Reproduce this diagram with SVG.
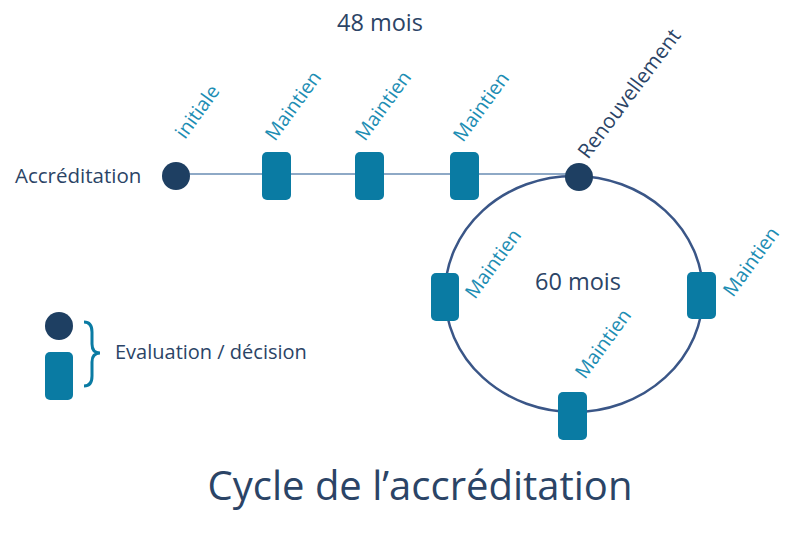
<svg xmlns="http://www.w3.org/2000/svg" width="800" height="540" viewBox="0 0 800 540">
<style>
.dot{fill:#1E3F62}
.box{fill:#0A7BA3}
.lbl{font-family:"Open Sans","Liberation Sans",sans-serif;font-size:19.5px;fill:#1C8DB3}
.txt{font-family:"Open Sans","Liberation Sans",sans-serif;fill:#2B4466}
</style>
<rect width="800" height="540" fill="#ffffff"/>
<g id="connectors">
<line x1="176" y1="174" x2="579" y2="174" stroke="#8EA9C6" stroke-width="2"/>
<ellipse cx="574" cy="294" rx="129" ry="118" fill="none" stroke="#3A5687" stroke-width="2.5"/>
</g>
<text class="txt" x="380" y="31" font-size="23.5" text-anchor="middle">48 mois</text>
<text class="txt" x="578" y="290" font-size="23.5" text-anchor="middle">60 mois</text>
<g id="accreditation">
<text class="txt" x="15" y="183" font-size="20.5">Accréditation</text>
<circle class="dot" cx="176" cy="176" r="14"/>
<text class="lbl" transform="translate(185,140) rotate(-54)">initiale</text>
</g>
<g id="m1"><rect class="box" x="262" y="152" width="29" height="48" rx="5"/><text class="lbl" transform="translate(275,142) rotate(-54)">Maintien</text></g>
<g id="m2"><rect class="box" x="355" y="152" width="29" height="48" rx="5"/><text class="lbl" transform="translate(365,142) rotate(-54)">Maintien</text></g>
<g id="m3"><rect class="box" x="450" y="152" width="29" height="48" rx="5"/><text class="lbl" transform="translate(463,143) rotate(-54)">Maintien</text></g>
<g id="renouvellement">
<circle class="dot" cx="579" cy="177" r="14"/>
<text class="txt" font-size="20.5" fill="#2B3A55" transform="translate(588,160) rotate(-53)">Renouvellement</text>
</g>
<g id="m4"><rect class="box" x="431" y="273" width="28" height="48" rx="5"/><text class="lbl" transform="translate(475,300) rotate(-54)">Maintien</text></g>
<g id="m5"><rect class="box" x="687" y="272" width="29" height="47" rx="5"/><text class="lbl" transform="translate(733,298) rotate(-54)">Maintien</text></g>
<g id="m6"><rect class="box" x="558" y="392" width="29" height="48" rx="5"/><text class="lbl" transform="translate(585,380) rotate(-54)">Maintien</text></g>
<g id="legend">
<circle class="dot" cx="59" cy="326" r="14"/>
<rect class="box" x="45" y="352" width="28" height="48" rx="5"/>
<path d="M84,322 Q92,322 92,332 L92,344 Q92,353 100,353 Q92,353 92,362 L92,376 Q92,386 84,386" fill="none" stroke="#0A7BA3" stroke-width="3"/>
<text class="txt" x="115" y="359" font-size="20">Evaluation / décision</text>
</g>
<text class="txt" x="420" y="500" font-size="40" text-anchor="middle" fill="#1E3F62">Cycle de l’accréditation</text>
</svg>
